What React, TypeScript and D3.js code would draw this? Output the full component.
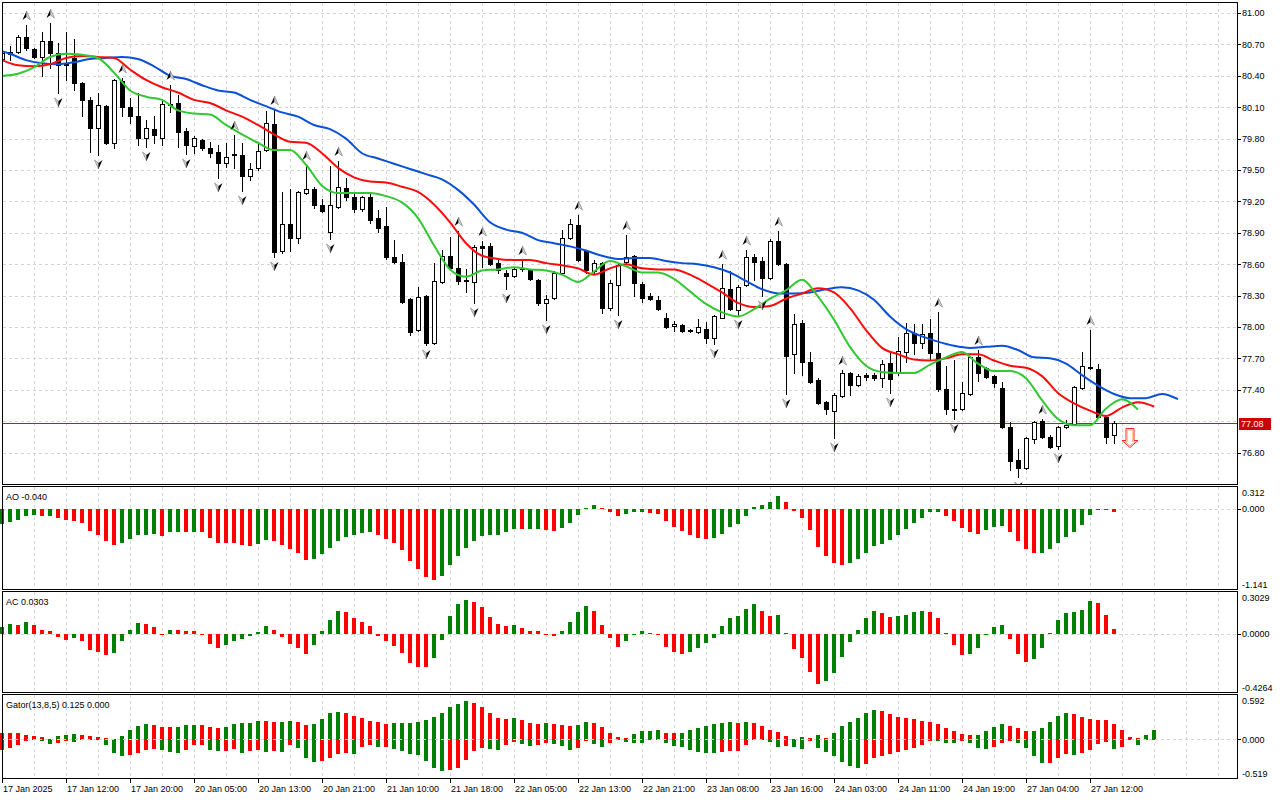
import * as d3 from "d3";
import * as React from "react";

// hourly candles, first bar 17 Jan 2025 04:00
const open = [
  80.56, 80.61, 80.63, 80.77, 80.66, 80.58, 80.73, 80.62, 80.52, 80.57,
  80.33, 80.17, 79.9, 80.11, 79.76, 80.35, 80.1, 80.02, 79.81, 79.89,
  79.81, 80.12, 80.14, 79.87, 79.73, 79.79, 79.71, 79.67, 79.57, 79.64,
  79.64, 79.44, 79.52, 79.69, 79.94, 78.73, 78.98, 78.85, 79.28, 79.32,
  79.17, 78.91, 79.15, 79.33, 79.24, 79.13, 79.24, 79.04, 78.96, 78.67,
  78.62, 78.27, 77.97, 78.3, 77.85, 78.43, 78.68, 78.56, 78.45, 78.43,
  78.77, 78.77, 78.61, 78.52, 78.49, 78.55, 78.54, 78.45, 78.23, 78.28,
  78.52, 78.85, 78.97, 78.73, 78.53, 78.61, 78.18, 78.4, 78.62, 78.68,
  78.41, 78.3, 78.26, 78.09, 78.01, 78.02, 77.97, 77.95, 77.98, 77.89,
  78.09, 78.36, 78.16, 78.4, 78.67, 78.63, 78.47, 78.82, 78.6, 77.74,
  78.04, 77.67, 77.49, 77.28, 77.2, 77.34, 77.56, 77.45, 77.54, 77.54,
  77.51, 77.66, 77.56, 77.76, 77.94, 77.85, 77.94, 77.75, 77.41, 77.22,
  77.22, 77.36, 77.71, 77.61, 77.53, 77.42, 77.04, 76.73, 76.65, 76.93,
  77.1, 76.95, 76.86, 77.04, 77.07, 77.42, 77.61, 77.6, 77.14, 76.97,
];
const high = [
  80.64, 80.68, 80.79, 80.89, 80.67, 80.82, 80.9, 80.71, 80.82, 80.75,
  80.34, 80.2, 80.24, 80.12, 80.37, 80.38, 80.19, 80.24, 79.98, 80.02,
  80.18, 80.31, 80.22, 79.9, 79.82, 79.8, 79.77, 79.74, 79.76, 79.83,
  79.76, 79.57, 79.77, 80.06, 80.07, 79.29, 79.32, 79.3, 79.55, 79.34,
  79.22, 79.54, 79.59, 79.42, 79.29, 79.25, 79.28, 79.12, 79.15, 78.83,
  78.7, 78.28, 78.38, 78.31, 78.61, 78.74, 78.86, 78.92, 78.55, 78.78,
  78.82, 78.8, 78.64, 78.54, 78.56, 78.64, 78.55, 78.46, 78.31, 78.53,
  78.93, 79.03, 79.07, 78.74, 78.64, 78.62, 78.45, 78.6, 78.88, 78.69,
  78.43, 78.32, 78.3, 78.13, 78.06, 78.03, 77.98, 78.08, 78.05, 78.11,
  78.6, 78.53, 78.4, 78.74, 78.7, 78.67, 78.84, 78.92, 78.61, 78.12,
  78.07, 77.76, 77.51, 77.29, 77.37, 77.59, 77.57, 77.55, 77.56, 77.56,
  77.68, 77.75, 77.9, 78.04, 78.03, 78.03, 78.08, 78.14, 77.63, 77.68,
  77.47, 77.72, 77.78, 77.62, 77.54, 77.47, 77.09, 76.83, 76.95, 77.1,
  77.12, 76.97, 77.05, 77.11, 77.44, 77.76, 77.97, 77.65, 77.16, 77.1,
];
const low = [
  80.54, 80.55, 80.62, 80.65, 80.57, 80.4, 80.47, 80.24, 80.36, 80.26,
  80.02, 79.67, 79.64, 79.75, 79.71, 80.02, 79.95, 79.74, 79.72, 79.76,
  79.74, 80.05, 79.72, 79.65, 79.66, 79.69, 79.62, 79.42, 79.53, 79.52,
  79.3, 79.4, 79.5, 79.68, 78.67, 78.71, 78.73, 78.8, 79.27, 79.14,
  79.1, 78.84, 79.14, 79.21, 79.1, 79.11, 78.99, 78.91, 78.65, 78.61,
  78.23, 77.92, 77.96, 77.83, 77.84, 78.42, 78.55, 78.41, 78.33, 78.23,
  78.57, 78.59, 78.52, 78.36, 78.48, 78.53, 78.45, 78.21, 78.07, 78.27,
  78.51, 78.84, 78.63, 78.52, 78.51, 78.13, 78.16, 78.11, 78.61, 78.3,
  78.24, 78.26, 78.16, 77.99, 77.96, 77.95, 77.95, 77.94, 77.85, 77.84,
  78.14, 78.16, 78.11, 78.39, 78.45, 78.3, 78.46, 78.59, 77.36, 77.56,
  77.54, 77.46, 77.26, 77.17, 76.94, 77.33, 77.35, 77.44, 77.49, 77.49,
  77.43, 77.37, 77.54, 77.67, 77.74, 77.8, 77.69, 77.39, 77.17, 77.12,
  77.21, 77.35, 77.48, 77.51, 77.43, 77.03, 76.63, 76.57, 76.64, 76.89,
  76.94, 76.84, 76.83, 77.03, 77.06, 77.41, 77.6, 77.13, 76.89, 76.89,
];
const close = [
  80.62, 80.63, 80.77, 80.67, 80.58, 80.73, 80.62, 80.5, 80.5, 80.33,
  80.17, 79.9, 80.12, 79.76, 80.36, 80.1, 80.02, 79.81, 79.9, 79.83,
  80.13, 80.13, 79.86, 79.74, 79.81, 79.71, 79.66, 79.57, 79.62, 79.65,
  79.44, 79.51, 79.68, 79.95, 78.72, 78.98, 78.85, 79.29, 79.32, 79.17,
  79.11, 79.17, 79.34, 79.24, 79.13, 79.24, 79.02, 78.95, 78.67, 78.62,
  78.24, 77.95, 78.29, 77.85, 78.44, 78.68, 78.56, 78.44, 78.44, 78.76,
  78.75, 78.6, 78.54, 78.49, 78.55, 78.56, 78.46, 78.23, 78.27, 78.52,
  78.85, 78.98, 78.64, 78.54, 78.61, 78.18, 78.42, 78.59, 78.67, 78.42,
  78.28, 78.27, 78.17, 78.0, 78.03, 77.96, 77.96, 78.0, 77.89, 78.1,
  78.37, 78.17, 78.38, 78.67, 78.62, 78.47, 78.82, 78.6, 77.72, 78.03,
  77.67, 77.47, 77.27, 77.22, 77.35, 77.56, 77.45, 77.53, 77.52, 77.51,
  77.65, 77.5, 77.77, 77.94, 77.85, 77.93, 77.75, 77.41, 77.22, 77.21,
  77.37, 77.71, 77.56, 77.52, 77.46, 77.04, 76.72, 76.65, 76.94, 77.09,
  76.95, 76.85, 77.04, 77.06, 77.43, 77.63, 77.62, 77.14, 76.95, 77.08,
];

// Alligator lines as drawn (shift already applied), one value every 2nd bar
const jawStart = -1;
const jaw = [
  80.66, 80.61, 80.55, 80.52, 80.51, 80.53, 80.56, 80.57, 80.58, 80.56,
  80.49, 80.4, 80.37, 80.31, 80.26, 80.24, 80.17, 80.11, 80.05, 80.01,
  79.93, 79.89, 79.8, 79.66, 79.61, 79.56, 79.51, 79.46, 79.41, 79.31,
  79.17, 79.0, 78.93, 78.9, 78.83, 78.8, 78.77, 78.73, 78.68, 78.65,
  78.66, 78.66, 78.63, 78.61, 78.6, 78.57, 78.52, 78.44, 78.36, 78.32,
  78.32, 78.33, 78.36, 78.38, 78.35, 78.26, 78.1, 77.98, 77.91, 77.86,
  77.82, 77.8, 77.81, 77.82, 77.78, 77.71, 77.7, 77.65, 77.54, 77.44,
  77.36, 77.32, 77.32, 77.36, 77.31,
];
const teethStart = 0;
const teeth = [
  80.55, 80.5, 80.49, 80.51, 80.57, 80.59, 80.58, 80.57, 80.46, 80.36,
  80.29, 80.24, 80.17, 80.14, 80.07, 80.01, 79.93, 79.84, 79.77, 79.76,
  79.66, 79.52, 79.43, 79.39, 79.38, 79.34, 79.29, 79.17, 79.0, 78.8,
  78.68, 78.65, 78.64, 78.64, 78.61, 78.59, 78.56, 78.5, 78.56, 78.6,
  78.56, 78.55, 78.55, 78.5, 78.42, 78.33, 78.23, 78.19, 78.2, 78.27,
  78.32, 78.37, 78.33, 78.18, 77.97, 77.8, 77.74, 77.69, 77.68, 77.7,
  77.74, 77.74, 77.68, 77.63, 77.61, 77.53, 77.37, 77.27, 77.2, 77.15,
  77.23, 77.28, 77.24,
];
const lipsStart = 0;
const lips = [
  80.4, 80.42, 80.48, 80.58, 80.61, 80.6, 80.57, 80.43, 80.26, 80.2,
  80.17, 80.07, 80.04, 80.03, 79.93, 79.84, 79.76, 79.69, 79.69, 79.55,
  79.35, 79.28, 79.28, 79.28, 79.25, 79.19, 79.04, 78.78, 78.55, 78.48,
  78.54, 78.55, 78.57, 78.55, 78.54, 78.5, 78.43, 78.53, 78.63, 78.58,
  78.52, 78.52, 78.46, 78.34, 78.22, 78.14, 78.1, 78.17, 78.27, 78.35,
  78.45, 78.29, 78.07, 77.81, 77.63, 77.57, 77.56, 77.56, 77.64, 77.71,
  77.76, 77.65, 77.58, 77.58, 77.51, 77.3, 77.12, 77.06, 77.06, 77.22,
  77.31, 77.21,
];

const fractalUp = [3, 6, 15, 21, 29, 34, 38, 42, 57, 60, 65, 72, 78, 90, 93, 97, 105, 117, 122, 130, 136];
const fractalDown = [7, 12, 18, 23, 27, 30, 34, 41, 53, 59, 63, 68, 77, 89, 92, 95, 98, 104, 111, 119, 127, 132];

const aoValues = [
  -0.221, -0.188, -0.16, -0.103, -0.089, -0.103, -0.098, -0.136, -0.16, -0.174,
  -0.202, -0.315, -0.371, -0.46, -0.512, -0.484, -0.432, -0.376, -0.371, -0.357,
  -0.39, -0.329, -0.326, -0.33, -0.327, -0.331, -0.418, -0.484, -0.486, -0.488,
  -0.512, -0.526, -0.502, -0.446, -0.46, -0.512, -0.573, -0.624, -0.728, -0.714,
  -0.638, -0.559, -0.46, -0.404, -0.371, -0.343, -0.329, -0.371, -0.432, -0.484,
  -0.587, -0.74, -0.857, -0.967, -1.014, -0.953, -0.798, -0.671, -0.563, -0.46,
  -0.39, -0.376, -0.366, -0.333, -0.286, -0.29, -0.288, -0.285, -0.305, -0.319,
  -0.277, -0.207, -0.08, 0.019, 0.056, 0.014, -0.038, -0.108, -0.075, -0.047,
  -0.045, -0.061, -0.075, -0.178, -0.263, -0.319, -0.376, -0.413, -0.427, -0.413,
  -0.352, -0.263, -0.216, -0.094, 0.033, 0.056, 0.103, 0.183, 0.103, -0.023,
  -0.131, -0.305, -0.545, -0.671, -0.775, -0.798, -0.775, -0.718, -0.634, -0.531,
  -0.493, -0.446, -0.376, -0.291, -0.207, -0.136, -0.047, -0.038, -0.108, -0.178,
  -0.277, -0.333, -0.362, -0.305, -0.263, -0.249, -0.333, -0.46, -0.573, -0.629,
  -0.625, -0.573, -0.488, -0.404, -0.333, -0.235, -0.08, 0.005, 0.002, -0.04,
];
const acValues = [
  0.047, 0.066, 0.059, 0.084, 0.059, 0.029, 0.015, -0.027, -0.044, -0.034,
  -0.052, -0.118, -0.133, -0.155, -0.14, -0.057, 0.029, 0.074, 0.066, 0.044,
  -0.007, 0.029, 0.027, 0.022, 0.015, -0.005, -0.074, -0.103, -0.081, -0.052,
  -0.037, -0.02, 0.01, 0.052, 0.029, -0.025, -0.074, -0.103, -0.147, -0.081,
  0.022, 0.096, 0.165, 0.16, 0.111, 0.081, 0.052, -0.015, -0.052, -0.088,
  -0.14, -0.214, -0.241, -0.246, -0.182, -0.049, 0.125, 0.214, 0.243, 0.229,
  0.192, 0.118, 0.066, 0.057, 0.061, 0.037, 0.022, 0.015, -0.005, -0.015,
  0.015, 0.081, 0.155, 0.199, 0.162, 0.059, -0.029, -0.096, -0.052, -0.007,
  0.015, 0.007, -0.002, -0.096, -0.138, -0.147, -0.138, -0.103, -0.066, -0.029,
  0.052, 0.111, 0.125, 0.177, 0.214, 0.162, 0.13, 0.135, 0.007, -0.111,
  -0.182, -0.278, -0.369, -0.344, -0.285, -0.174, -0.064, 0.029, 0.111, 0.162,
  0.147, 0.118, 0.125, 0.133, 0.157, 0.165, 0.16, 0.111, 0.007, -0.081,
  -0.157, -0.152, -0.103, -0.012, 0.044, 0.059, -0.037, -0.147, -0.204, -0.184,
  -0.103, 0.007, 0.096, 0.147, 0.155, 0.17, 0.236, 0.221, 0.133, 0.0303,
];
const gatorUpper = [
  0.085, 0.083, 0.08, 0.063, 0.04, 0.027, 0.009, 0.04, 0.054, 0.067,
  0.054, 0.04, 0.027, 0.013, 0.004, 0.04, 0.121, 0.174, 0.201, 0.188,
  0.161, 0.158, 0.161, 0.188, 0.196, 0.192, 0.161, 0.147, 0.161, 0.201,
  0.214, 0.219, 0.241, 0.239, 0.228, 0.232, 0.241, 0.237, 0.188, 0.201,
  0.268, 0.348, 0.362, 0.348, 0.308, 0.281, 0.241, 0.237, 0.21, 0.212,
  0.214, 0.219, 0.228, 0.254, 0.295, 0.348, 0.429, 0.469, 0.509, 0.482,
  0.429, 0.348, 0.281, 0.277, 0.286, 0.254, 0.214, 0.201, 0.214, 0.21,
  0.188, 0.174, 0.188, 0.228, 0.223, 0.161, 0.08, 0.027, 0.013, 0.067,
  0.107, 0.109, 0.121, 0.08, 0.078, 0.08, 0.121, 0.147, 0.174, 0.201,
  0.214, 0.228, 0.223, 0.228, 0.214, 0.174, 0.121, 0.094, 0.04, 0.004,
  0.027, 0.022, 0.054, 0.018, 0.08, 0.174, 0.228, 0.281, 0.348, 0.388,
  0.375, 0.335, 0.295, 0.281, 0.268, 0.241, 0.228, 0.201, 0.147, 0.107,
  0.067, 0.054, 0.056, 0.107, 0.161, 0.201, 0.174, 0.147, 0.107, 0.109,
  0.147, 0.228, 0.308, 0.348, 0.335, 0.295, 0.268, 0.263, 0.254, 0.201,
  0.121, 0.027, 0.013, 0.054, 0.125,
];
const gatorLower = [
  0.143, 0.116, 0.08, 0.022, 0.004, 0.022, 0.067, 0.054, 0.027, 0.04,
  0.009, 0.007, 0.009, 0.08, 0.188, 0.228, 0.214, 0.188, 0.147, 0.134,
  0.147, 0.174, 0.188, 0.147, 0.08, 0.076, 0.147, 0.161, 0.156, 0.134,
  0.188, 0.161, 0.147, 0.174, 0.161, 0.174, 0.08, 0.121, 0.254, 0.308,
  0.295, 0.254, 0.201, 0.188, 0.192, 0.107, 0.08, 0.107, 0.103, 0.134,
  0.156, 0.196, 0.214, 0.295, 0.388, 0.429, 0.415, 0.388, 0.281, 0.161,
  0.121, 0.134, 0.147, 0.08, 0.04, 0.067, 0.094, 0.08, 0.054, 0.058,
  0.094, 0.147, 0.121, 0.027, 0.067, 0.107, 0.054, 0.013, 0.04, 0.054,
  0.056, 0.013, 0.002, 0.054, 0.094, 0.107, 0.147, 0.174, 0.188, 0.19,
  0.174, 0.161, 0.156, 0.08, 0.013, 0.016, 0.04, 0.107, 0.094, 0.098,
  0.134, 0.022, 0.121, 0.174, 0.228, 0.308, 0.362, 0.388, 0.335, 0.254,
  0.228, 0.201, 0.174, 0.147, 0.121, 0.08, 0.022, 0.025, 0.049, 0.051,
  0.027, 0.049, 0.121, 0.134, 0.107, 0.054, 0.027, 0.049, 0.121, 0.228,
  0.321, 0.317, 0.254, 0.201, 0.205, 0.188, 0.147, 0.067, 0.031, 0.134,
  0.107, 0.004, 0.076, 0.009, 0.0,
];

const priceTicks = [81.0, 80.7, 80.4, 80.1, 79.8, 79.5, 79.2, 78.9, 78.6, 78.3, 78.0, 77.7, 77.4, 77.1, 76.8];
const timeLabels = [
  "17 Jan 2025", "17 Jan 12:00", "17 Jan 20:00", "20 Jan 05:00", "20 Jan 13:00", "20 Jan 21:00",
  "21 Jan 10:00", "21 Jan 18:00", "22 Jan 05:00", "22 Jan 13:00", "22 Jan 21:00", "23 Jan 08:00",
  "23 Jan 16:00", "24 Jan 03:00", "24 Jan 11:00", "24 Jan 19:00", "27 Jan 04:00", "27 Jan 12:00",
];
const sellSignal = { bar: 141, price: 77.03 };

const aoRange = [-1.141, 0.312];
const acRange = [-0.4264, 0.3029];
const gatorRange = [-0.519, 0.592];

const GREEN = "#008000";
const RED = "#ff0000";
const GRID = "#d4d4d4";
const FONT = "'Liberation Sans', Arial, sans-serif";

const left = 2;
const right = 1237;
const main = { top: 2, bottom: 484 };
const aoBox = { top: 486, bottom: 589 };
const acBox = { top: 591, bottom: 692 };
const gatorBox = { top: 694, bottom: 778 };

export default function App() {
  const x = d3.scaleLinear().domain([0, 139]).range([2, 1114]);
  const cx = (i: number) => Math.round(x(i));
  const yPrice = d3.scaleLinear().domain([76.49, 81.105]).range([485, 2]);
  const yAO = d3.scaleLinear().domain(aoRange).range([aoBox.bottom, aoBox.top + 1]);
  const yAC = d3.scaleLinear().domain(acRange).range([acBox.bottom, acBox.top + 1]);
  const yGator = d3.scaleLinear().domain(gatorRange).range([gatorBox.bottom, gatorBox.top + 1]);

  const lineFor = (start: number) =>
    d3
      .line<number>()
      .x((d, j) => x(start + 2 * j))
      .y((d) => yPrice(d))
      .curve(d3.curveMonotoneX);

  const gridX = d3.range(34, right, 32);
  const lastPrice = close[close.length - 1];
  const yLast = Math.round(yPrice(lastPrice)) + 0.5;

  const histogram = (values: number[], y: any, sign: number, firstGreen: boolean, key: string) =>
    values.map((v, i) => {
      const up = i === 0 ? firstGreen : v > values[i - 1];
      const y0 = Math.round(y(0));
      const y1 = Math.round(y(sign * v));
      const top = Math.min(y0, y1);
      const h = Math.max(1, Math.abs(y1 - y0));
      return (
        <rect
          key={key + i}
          x={cx(i) - 2}
          y={sign < 0 ? y0 : top}
          width={4}
          height={h}
          fill={up ? GREEN : RED}
        />
      );
    });

  const panelFrame = (box: { top: number; bottom: number }, key: string) => (
    <rect
      key={key}
      x={left + 0.5}
      y={box.top + 0.5}
      width={right - left}
      height={box.bottom - box.top}
      fill="none"
      stroke="#000"
      strokeWidth={1}
    />
  );

  const vGrid = (box: { top: number; bottom: number }, key: string) =>
    gridX.map((gx) => (
      <line
        key={key + gx}
        x1={gx + 0.5}
        x2={gx + 0.5}
        y1={box.top + 1}
        y2={box.bottom}
        stroke={GRID}
        strokeDasharray="3,3"
      />
    ));

  const zeroLine = (y: number, key: string) => (
    <line key={key} x1={left + 1} x2={right} y1={Math.round(y) + 0.5} y2={Math.round(y) + 0.5} stroke={GRID} strokeDasharray="3,3" />
  );

  const axisLabel = (text: string, y: number, key: string, tick = true) => (
    <g key={key}>
      {tick && <line x1={right} x2={right + 4} y1={Math.round(y) + 0.5} y2={Math.round(y) + 0.5} stroke="#000" />}
      <text x={right + 5} y={y + 3.5} fontSize={9} fontFamily={FONT} fill="#000">
        {text}
      </text>
    </g>
  );

  const upArrow = (i: number) => {
    const px = cx(i) + 0.5;
    const py = Math.round(yPrice(high[i])) - 9;
    return (
      <g key={"fu" + i} transform={`translate(${px},${py})`}>
        <path d="M0,-5 L-4,4 L0,1 Z" fill="#000" />
        <path d="M0,-5 L4,4 L0,1 Z" fill="#d0d0d0" stroke="#7a7a7a" strokeWidth={0.6} />
      </g>
    );
  };
  const downArrow = (i: number) => {
    const px = cx(i) + 0.5;
    const py = Math.round(yPrice(low[i])) + 9;
    return (
      <g key={"fd" + i} transform={`translate(${px},${py})`}>
        <path d="M0,5 L-4,-4 L0,-1 Z" fill="#d0d0d0" stroke="#7a7a7a" strokeWidth={0.6} />
        <path d="M0,5 L4,-4 L0,-1 Z" fill="#000" />
      </g>
    );
  };

  const sx = x(sellSignal.bar);
  const sy = yPrice(sellSignal.price);

  return (
    <div style={{ position: "fixed", left: 0, top: 0, width: 1280, height: 800, background: "#fff" }}>
      <svg width={1280} height={800} style={{ display: "block" }}>
        <defs>
          <clipPath id="mainClip">
            <rect x={left + 1} y={main.top + 1} width={right - left - 1} height={main.bottom - main.top} />
          </clipPath>
        </defs>
        <rect width={1280} height={800} fill="#fff" />

        {/* main grid */}
        <g shapeRendering="crispEdges">
          {vGrid(main, "mg")}
          {priceTicks.map((p) => (
            <line
              key={"hg" + p}
              x1={left + 1}
              x2={right}
              y1={Math.round(yPrice(p)) + 0.5}
              y2={Math.round(yPrice(p)) + 0.5}
              stroke={GRID}
              strokeDasharray="3,3"
            />
          ))}
        </g>

        <g clipPath="url(#mainClip)">
          {/* current price line, behind the candles */}
          <line x1={left} x2={right} y1={yLast} y2={yLast} stroke="#ff0000" strokeWidth={1} />

          {/* candles */}
          <g shapeRendering="crispEdges">
            {open.map((o, i) => {
              const c = close[i];
              const xc = cx(i);
              const yo = Math.round(yPrice(o));
              const yc = Math.round(yPrice(c));
              const top = Math.min(yo, yc);
              const bot = Math.max(yo, yc);
              const bull = c >= o;
              return (
                <g key={"c" + i}>
                  <line
                    x1={xc + 0.5}
                    x2={xc + 0.5}
                    y1={Math.round(yPrice(high[i]))}
                    y2={Math.round(yPrice(low[i])) + 1}
                    stroke="#000"
                  />
                  {bot - top < 1 ? (
                    <line x1={xc - 2} x2={xc + 3} y1={top + 0.5} y2={top + 0.5} stroke="#000" />
                  ) : (
                    <rect
                      x={xc - 1.5}
                      y={top + 0.5}
                      width={4}
                      height={bot - top}
                      fill={bull ? "#fff" : "#000"}
                      stroke="#000"
                    />
                  )}
                </g>
              );
            })}
          </g>

          {/* alligator */}
          <path d={lineFor(jawStart)(jaw) || ""} fill="none" stroke="#0a50d8" strokeWidth={2} />
          <path d={lineFor(teethStart)(teeth) || ""} fill="none" stroke="#ff0a0a" strokeWidth={2} />
          <path d={lineFor(lipsStart)(lips) || ""} fill="none" stroke="#32c832" strokeWidth={2} />

          {/* fractals */}
          {fractalUp.map(upArrow)}
          {fractalDown.map(downArrow)}

          {/* sell signal */}
          <g transform={`translate(${sx},${sy})`}>
            <path d="M-4,0 L4,0 L4,12 L8,12 L0,19 L-8,12 L-4,12 Z" fill="#fff" stroke="#ff2020" strokeWidth={1} />
            <path d="M-2.8,1.3 L2.8,1.3 L2.8,13.2 L5.2,13.2 L0,17.4 L-5.2,13.2 L-2.8,13.2 Z" fill="none" stroke="#ffb070" strokeWidth={1} />
          </g>
        </g>

        {/* sub panel grids */}
        <g shapeRendering="crispEdges">
          {vGrid(aoBox, "ag")}
          {vGrid(acBox, "cg")}
          {vGrid(gatorBox, "gg")}
          {zeroLine(yAO(0), "az")}
          {zeroLine(yAC(0), "cz")}
        </g>

        {/* AO / AC / Gator histograms */}
        <g shapeRendering="crispEdges">
          {histogram(aoValues, yAO, 1, true, "ao")}
          {histogram(acValues, yAC, 1, true, "ac")}
          {histogram(gatorUpper, yGator, 1, false, "gu")}
          {histogram(gatorLower, yGator, -1, false, "gl")}
          {zeroLine(yGator(0), "gz")}
        </g>

        {/* frames */}
        <g shapeRendering="crispEdges">
          {panelFrame(main, "fm")}
          {panelFrame(aoBox, "fa")}
          {panelFrame(acBox, "fc")}
          {panelFrame(gatorBox, "fg")}
        </g>

        {/* panel titles */}
        <g fontSize={9} fontFamily={FONT} fill="#000">
          <text x={6} y={aoBox.top + 14}>{`AO ${aoValues[aoValues.length - 1].toFixed(3)}`}</text>
          <text x={6} y={acBox.top + 14}>{`AC ${acValues[acValues.length - 1].toFixed(4)}`}</text>
          <text x={6} y={gatorBox.top + 14}>
            {`Gator(13,8,5) ${gatorUpper[gatorUpper.length - 1].toFixed(3)} ${gatorLower[gatorLower.length - 1].toFixed(3)}`}
          </text>
        </g>

        {/* price axis */}
        <g shapeRendering="crispEdges">
          {priceTicks.map((p) =>
            Math.abs(yPrice(p) - yPrice(lastPrice)) < 9 ? null : axisLabel(p.toFixed(2), yPrice(p), "pl" + p)
          )}
          <rect x={right + 2} y={yLast - 6} width={32} height={12} fill="#cc0000" />
          <text x={right + 4} y={yLast + 3.5} fontSize={9} fontFamily={FONT} fill="#fff">
            {lastPrice.toFixed(2)}
          </text>

          {axisLabel(aoRange[1].toFixed(3), aoBox.top + 6, "a1", false)}
          {axisLabel("0.000", yAO(0), "a0")}
          {axisLabel(aoRange[0].toFixed(3), aoBox.bottom - 5, "a2", false)}

          {axisLabel(acRange[1].toFixed(4), acBox.top + 6, "c1", false)}
          {axisLabel("0.0000", yAC(0), "c0")}
          {axisLabel(acRange[0].toFixed(4), acBox.bottom - 5, "c2", false)}

          {axisLabel(gatorRange[1].toFixed(3), gatorBox.top + 6, "g1", false)}
          {axisLabel("0.000", yGator(0), "g0")}
          {axisLabel(gatorRange[0].toFixed(3), gatorBox.bottom - 5, "g2", false)}
        </g>

        {/* time axis */}
        <g shapeRendering="crispEdges">
          {timeLabels.map((t, k) => {
            const tx = cx(k * 8);
            return (
              <g key={"t" + k}>
                <line x1={tx + 0.5} x2={tx + 0.5} y1={gatorBox.bottom} y2={gatorBox.bottom + 5} stroke="#000" />
                <text x={tx + 1} y={gatorBox.bottom + 14} fontSize={9} fontFamily={FONT} fill="#000">
                  {t}
                </text>
              </g>
            );
          })}
        </g>
      </svg>
    </div>
  );
}
